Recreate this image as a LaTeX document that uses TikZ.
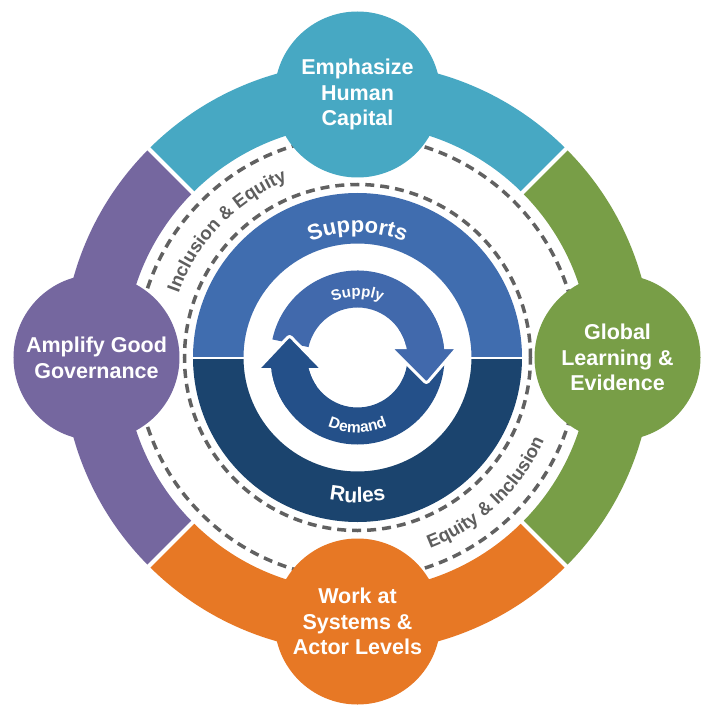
\documentclass[tikz,border=0pt]{standalone}
\usepackage{fontspec}
\setmainfont{Liberation Sans}
\usetikzlibrary{decorations.text}
\definecolor{cTeal}{HTML}{47A8C3}
\definecolor{cGreen}{HTML}{789E47}
\definecolor{cOrange}{HTML}{E77825}
\definecolor{cPurple}{HTML}{75679F}
\definecolor{cSup}{HTML}{406DAF}
\definecolor{cRul}{HTML}{1B446E}
\definecolor{cSupply}{HTML}{4169AC}
\definecolor{cDemand}{HTML}{245089}
\definecolor{cDash}{HTML}{616161}
\definecolor{cGrayText}{HTML}{5E5E5E}
\tikzset{
  dashcirc/.style={draw=cDash, line width=3.5pt, dash pattern=on 9pt off 6pt},
  bubble/.style={circle, minimum size=166pt, inner sep=0pt, text=white, align=center,
    font=\bfseries\fontsize{21.5}{25.7}\selectfont},
  gapline/.style={draw=white, line width=4pt},
  headline/.style={draw=white, line width=3pt, rounded corners=2.5pt, line join=round},
}
\begin{document}
\begin{tikzpicture}[x=1pt,y=1pt]
\useasboundingbox (-357.5,-346.5) rectangle (348.5,357.5);
\fill[white] (-357.5,-346.5) rectangle (348.5,357.5);

% dashed circles
\draw[dashcirc] (0,0) circle[radius=221];
\draw[dashcirc] (0,0) circle[radius=173];

% outer bands
\fill[cTeal] (45:233) arc[start angle=45,end angle=135,radius=233] -- (135:295) arc[start angle=135,end angle=45,radius=295] -- cycle;
\fill[cPurple] (135:233) arc[start angle=135,end angle=225,radius=233] -- (225:295) arc[start angle=225,end angle=135,radius=295] -- cycle;
\fill[cOrange] (225:233) arc[start angle=225,end angle=315,radius=233] -- (315:295) arc[start angle=315,end angle=225,radius=295] -- cycle;
\fill[cGreen] (-45:233) arc[start angle=-45,end angle=45,radius=233] -- (45:295) arc[start angle=45,end angle=-45,radius=295] -- cycle;
\foreach \a in {45,135,225,315} \draw[gapline] (\a:228) -- (\a:300);

% bubbles
\node[bubble, fill=cTeal] (hc) at (90:263) {Emphasize\\Human\\Capital};
\node[bubble, fill=cPurple] (gg) at (180:261) {Amplify Good\\Governance};
\node[bubble, fill=cGreen] (gl) at (0:260) {Global\\Learning \&\\Evidence};
\node[bubble, fill=cOrange] (sa) at (-90:264) {Work at\\Systems \&\\Actor Levels};

% inner ring
\fill[cSup] (0:164.5) arc[start angle=0,end angle=180,radius=164.5] -- (180:114) arc[start angle=180,end angle=0,radius=114] -- cycle;
\fill[cRul] (180:164.5) arc[start angle=180,end angle=360,radius=164.5] -- (0:114) arc[start angle=360,end angle=180,radius=114] -- cycle;
\draw[white, line width=2pt] (-166,0) -- (-112,0);
\draw[white, line width=2pt] (112,0) -- (166,0);

% cycle arrows
% demand body (start hidden under supply head)
\fill[cDemand] (0:87) arc[start angle=0,end angle=-172,radius=87] -- (-166:50) arc[start angle=-166,end angle=0,radius=50] -- cycle;
% supply body
\fill[cSupply] (168:87) arc[start angle=168,end angle=6.6,radius=87] -- (11.5:50) arc[start angle=11.5,end angle=168,radius=50] -- cycle;
% supply head
\filldraw[fill=cSupply, headline] (33,10) -- (100,10) -- (69,-26) -- cycle;
\begin{scope}
  \clip (0,8.3) rectangle (100,60);
  \fill[cSupply] (35:87) arc[start angle=35,end angle=0,radius=87] -- (0:50) arc[start angle=0,end angle=35,radius=50] -- cycle;
\end{scope}
% demand head
\filldraw[fill=cDemand, headline] (-100,-12) -- (-35,-12) -- (-68,22) -- cycle;
\begin{scope}
  \clip (0,-10.3) rectangle (-100,-60);
  \fill[cDemand] (-145:87) arc[start angle=-145,end angle=-180,radius=87] -- (-180:50) arc[start angle=-180,end angle=-145,radius=50] -- cycle;
\end{scope}

% curved labels
\path[decorate, decoration={text along path, text align=center,
  text={|\bfseries\fontsize{22}{22}\selectfont\color{white}|Supports}}]
  (128:125) arc[start angle=128,end angle=52,radius=125];
\path[decorate, decoration={text along path, text align=center,
  text={|\bfseries\fontsize{21}{21}\selectfont\color{white}|Rules}}]
  (-130:145) arc[start angle=-130,end angle=-50,radius=145];
\path[decorate, decoration={text along path, text align=center,
  text={|\bfseries\fontsize{15}{15}\selectfont\color{white}|Supply}}]
  (145:61) arc[start angle=145,end angle=35,radius=61];
\path[decorate, decoration={text along path, text align=center,
  text={|\bfseries\fontsize{15.5}{15.5}\selectfont\color{white}|Demand}}]
  (-150:75) arc[start angle=-150,end angle=-30,radius=75];
\path[decorate, decoration={text along path, text align=center,
  text={|\bfseries\fontsize{18.5}{18.5}\selectfont\color{cGrayText}|Inclusion {\&} Equity}}]
  (178:190) arc[start angle=178,end angle=94,radius=190];
\path[decorate, decoration={text along path, text align=center,
  text={|\bfseries\fontsize{18.5}{18.5}\selectfont\color{cGrayText}|Equity {\&} Inclusion}}]
  (-88.5:204) arc[start angle=-88.5,end angle=-4.5,radius=204];
\end{tikzpicture}
\end{document}
